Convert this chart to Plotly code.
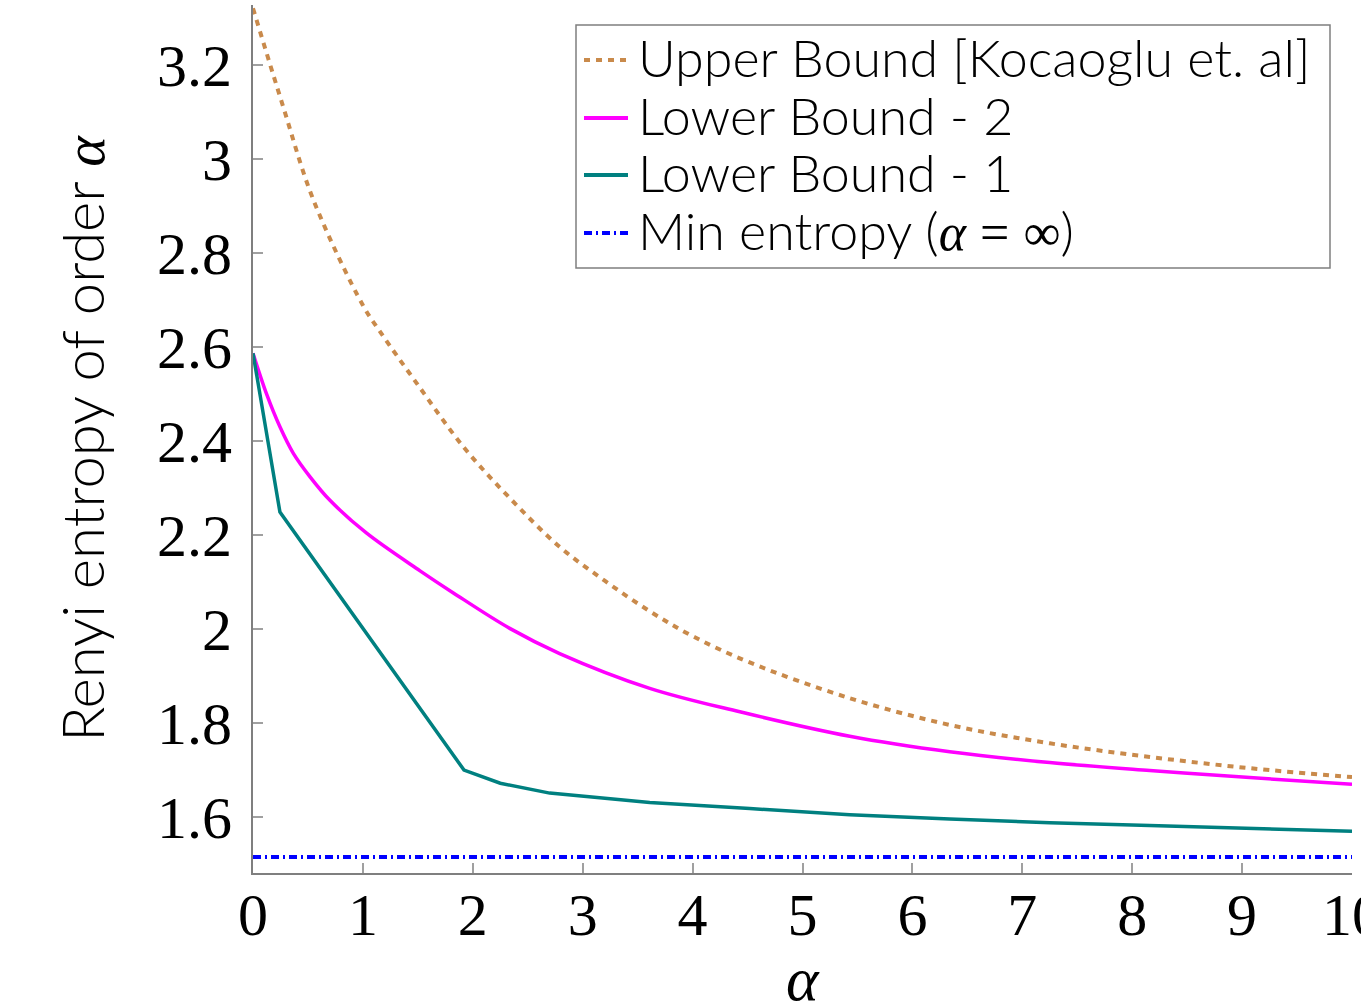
import plotly.graph_objects as go

# ---- data ----
upper_x = [0, 0.27, 0.55, 1.0, 1.156, 1.49, 1.914, 2.34, 2.79, 3.2, 3.61, 4.0, 4.52, 5.43, 6.34, 7.25, 8.16, 9.07, 10]
upper_y = [3.321, 3.115, 2.913, 2.689, 2.633, 2.523, 2.388, 2.278, 2.175, 2.103, 2.038, 1.985, 1.929, 1.853, 1.796, 1.757, 1.728, 1.704, 1.685]

lb2_x = [0, 0.124, 0.246, 0.367, 0.519, 0.70, 1.034, 1.52, 1.823, 2.34, 2.79, 3.61, 4.43, 5.43, 6.34, 7.25, 8.16, 9.07, 10]
lb2_y = [2.587, 2.500, 2.430, 2.374, 2.324, 2.274, 2.204, 2.124, 2.077, 2.001, 1.948, 1.874, 1.824, 1.772, 1.739, 1.716, 1.699, 1.684, 1.670]

lb1_x = [0, 0.245, 1.92, 2.25, 2.70, 3.61, 4.52, 5.43, 6.34, 7.25, 8.16, 9.07, 10]
lb1_y = [2.587, 2.249, 1.700, 1.672, 1.651, 1.631, 1.618, 1.605, 1.596, 1.588, 1.582, 1.576, 1.570]

min_x = [0, 10]
min_y = [1.515, 1.515]

x_ticks = [0, 1, 2, 3, 4, 5, 6, 7, 8, 9, 10]
y_ticks = [1.6, 1.8, 2.0, 2.2, 2.4, 2.6, 2.8, 3.0, 3.2]
y_tick_text = ["1.6", "1.8", "2", "2.2", "2.4", "2.6", "2.8", "3", "3.2"]

SERIF = "Liberation Serif"
SANS = "Lato Light, Lato"
alpha = f"<span style='font-family:{SERIF}'><i>α</i></span>"

series_names = [
    "Upper Bound [Kocaoglu et. al]",
    "Lower Bound - 2",
    "Lower Bound - 1",
    f"Min entropy ({alpha} <span style='font-family:{SERIF}'>=</span> <span style='font-family:{SERIF}'>∞</span>)",
]
series_colors = ["#C98A4B", "#FF00FF", "#008080", "#0000FF"]
series_dash = ["6px,6px", "solid", "solid", "8px,4px,2px,4px"]

fig = go.Figure()
fig.add_trace(go.Scatter(x=upper_x, y=upper_y, mode="lines", name=series_names[0],
                         line=dict(color=series_colors[0], width=4, dash=series_dash[0], shape="spline", smoothing=1.0)))
fig.add_trace(go.Scatter(x=lb2_x, y=lb2_y, mode="lines", name=series_names[1],
                         line=dict(color=series_colors[1], width=3.5, shape="spline", smoothing=1.0)))
fig.add_trace(go.Scatter(x=lb1_x, y=lb1_y, mode="lines", name=series_names[2],
                         line=dict(color=series_colors[2], width=3.5)))
fig.add_trace(go.Scatter(x=min_x, y=min_y, mode="lines", name=series_names[3],
                         line=dict(color=series_colors[3], width=4, dash=series_dash[3])))

axis_common = dict(showline=True, linecolor="#7f7f7f", linewidth=2, ticks="inside", ticklen=10,
                   tickcolor="#a0a0a0", tickwidth=1.5, showgrid=False, zeroline=False, automargin=False,
                   ticklabeloverflow="allow",
                   tickfont=dict(family=SERIF, size=60, color="black"))

# ---- legend drawn in paper space (pixel layout of the reference) ----
PL, PW, PB, PH = 253, 1099, 873, 868  # plot-area left, width, bottom, height in px
px = lambda v: (v - PL) / PW
py = lambda v: (PB - v) / PH

shapes = [dict(type="rect", xref="paper", yref="paper", x0=px(576), x1=px(1330), y0=py(268), y1=py(25),
               line=dict(color="#7f7f7f", width=1.5), fillcolor="white", layer="above")]
annotations = []
row_y = [60, 118, 175, 233]
for i, name in enumerate(series_names):
    shapes.append(dict(type="line", xref="paper", yref="paper", x0=px(584), x1=px(628),
                       y0=py(row_y[i]), y1=py(row_y[i]),
                       line=dict(color=series_colors[i], width=4, dash=series_dash[i]), layer="above"))
    annotations.append(dict(xref="paper", yref="paper", x=px(636), y=py(row_y[i] - 3), xanchor="left",
                            yanchor="middle", text=name, showarrow=False,
                            font=dict(family=SANS, size=52, weight=300, color="black")))

# x-axis title (placed like the reference, just below the tick labels)
annotations.append(dict(xref="paper", yref="paper", x=0.5, y=py(979), xanchor="center", yanchor="middle",
                        text="<i>α</i>", showarrow=False, font=dict(family=SERIF, size=62, color="black")))

fig.update_layout(
    width=1361, height=1007,
    margin=dict(l=253, r=9, t=5, b=134),
    paper_bgcolor="white", plot_bgcolor="white",
    font=dict(family=SANS, weight=300, color="black"),
    showlegend=False,
    xaxis=dict(range=[0, 10], tickvals=x_ticks, ticktext=[str(t) for t in x_ticks],
               ticklabelstandoff=-12, **axis_common),
    yaxis=dict(range=[1.481, 3.328], tickvals=y_ticks, ticktext=y_tick_text,
               title=dict(text=f"Renyi entropy of order {alpha}", font=dict(family=SANS, size=58, weight=300), standoff=34),
               ticklabelstandoff=7, **axis_common),
    shapes=shapes,
    annotations=annotations,
)

fig.write_html("out.html")
